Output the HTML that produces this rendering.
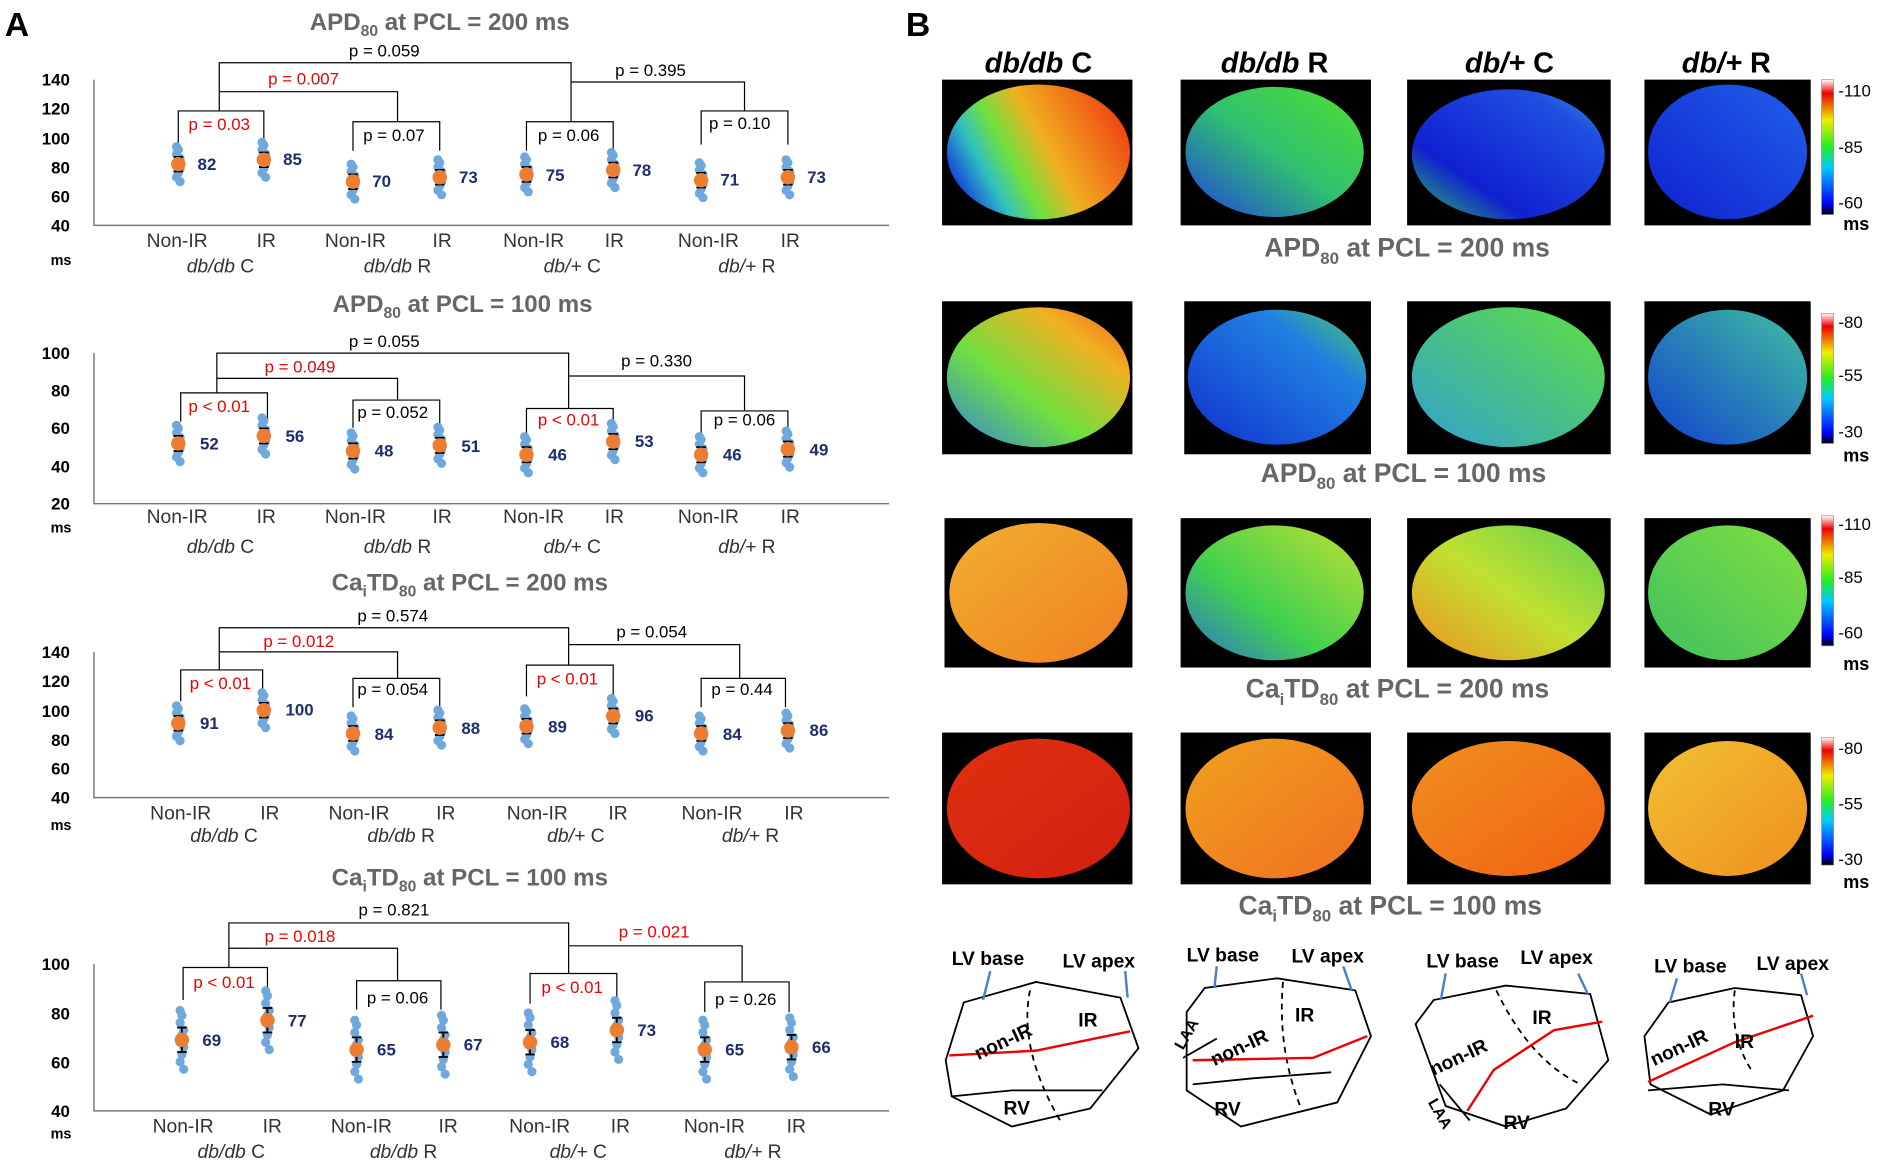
<!DOCTYPE html>
<html><head><meta charset="utf-8"><style>
html,body{margin:0;padding:0;background:#fff;}
svg{display:block;font-family:"Liberation Sans",sans-serif;}
.t{font-size:20px;font-weight:bold;fill:#666;text-anchor:middle}
.bt{font-size:22px;font-weight:bold;fill:#666;text-anchor:middle}
.yt{font-size:14px;font-weight:bold;text-anchor:end}
.xl{font-size:16px;fill:#333;text-anchor:middle}
.gl{font-size:16px;fill:#333;text-anchor:middle;font-style:italic}
.p{font-size:14px;text-anchor:middle}
.r{fill:#e00}
.v{font-size:14px;font-weight:bold;fill:#1f2d6e}
.ax{stroke:#777;stroke-width:1.2;fill:none}
.br{stroke:#000;stroke-width:1;fill:none}
.cl{font-size:24px;font-weight:bold;text-anchor:middle;font-style:italic}
.cl tspan{font-style:normal}
.cb{font-size:14px;fill:#000}
.dg{font-size:16px;font-weight:bold}
</style></head><body>
<svg id="s" width="1889" height="1170" viewBox="0 0 1568 971" xmlns="http://www.w3.org/2000/svg">
<defs>
<linearGradient id="cbar" x1="0" y1="1" x2="0" y2="0">
<stop offset="0" stop-color="#000"/><stop offset="0.08" stop-color="#00f"/><stop offset="0.35" stop-color="#0cf"/><stop offset="0.5" stop-color="#2e2"/><stop offset="0.7" stop-color="#ee0"/><stop offset="0.9" stop-color="#e00"/><stop offset="1" stop-color="#fff"/>
</linearGradient>
<linearGradient id="h11" x1="0" y1="0.7" x2="1" y2="0.3"><stop offset="0" stop-color="#1030e0"/><stop offset="0.2" stop-color="#30c0c0"/><stop offset="0.35" stop-color="#70e040"/><stop offset="0.55" stop-color="#f0b020"/><stop offset="1" stop-color="#f04010"/></linearGradient>
<linearGradient id="h12" x1="0" y1="1" x2="1" y2="0"><stop offset="0" stop-color="#2040e0"/><stop offset="0.5" stop-color="#30c070"/><stop offset="1" stop-color="#50e030"/></linearGradient>
<linearGradient id="h13" x1="0" y1="1" x2="1" y2="0"><stop offset="0" stop-color="#30c060"/><stop offset="0.3" stop-color="#1020d0"/><stop offset="0.8" stop-color="#2050e0"/><stop offset="1" stop-color="#40a0e0"/></linearGradient>
<linearGradient id="h14" x1="0" y1="1" x2="1" y2="0"><stop offset="0" stop-color="#1020d0"/><stop offset="1" stop-color="#2060e8"/></linearGradient>
<linearGradient id="h21" x1="0" y1="1" x2="1" y2="0"><stop offset="0" stop-color="#3080e0"/><stop offset="0.4" stop-color="#70e040"/><stop offset="0.75" stop-color="#f0b020"/><stop offset="1" stop-color="#f06020"/></linearGradient>
<linearGradient id="h22" x1="0" y1="1" x2="1" y2="0"><stop offset="0" stop-color="#1030d0"/><stop offset="0.7" stop-color="#2080e0"/><stop offset="1" stop-color="#50d060"/></linearGradient>
<linearGradient id="h23" x1="0" y1="1" x2="1" y2="0"><stop offset="0" stop-color="#30a0d0"/><stop offset="1" stop-color="#60e040"/></linearGradient>
<linearGradient id="h24" x1="0" y1="1" x2="1" y2="0"><stop offset="0" stop-color="#1040d0"/><stop offset="1" stop-color="#40c0a0"/></linearGradient>
<linearGradient id="h31" x1="0" y1="0" x2="1" y2="1"><stop offset="0" stop-color="#f0b030"/><stop offset="1" stop-color="#f08020"/></linearGradient>
<linearGradient id="h32" x1="0" y1="1" x2="1" y2="0"><stop offset="0" stop-color="#3070d0"/><stop offset="0.4" stop-color="#40d050"/><stop offset="1" stop-color="#c0e030"/></linearGradient>
<linearGradient id="h33" x1="0" y1="1" x2="1" y2="0"><stop offset="0" stop-color="#f09020"/><stop offset="0.5" stop-color="#c0e030"/><stop offset="1" stop-color="#60d050"/></linearGradient>
<linearGradient id="h34" x1="0" y1="1" x2="1" y2="0"><stop offset="0" stop-color="#40c060"/><stop offset="1" stop-color="#80e040"/></linearGradient>
<linearGradient id="h41" x1="0" y1="0" x2="1" y2="1"><stop offset="0" stop-color="#e03010"/><stop offset="1" stop-color="#d02010"/></linearGradient>
<linearGradient id="h42" x1="0" y1="0" x2="1" y2="1"><stop offset="0" stop-color="#f0a020"/><stop offset="1" stop-color="#f07020"/></linearGradient>
<linearGradient id="h43" x1="0" y1="0" x2="1" y2="1"><stop offset="0" stop-color="#f09020"/><stop offset="1" stop-color="#f06010"/></linearGradient>
<linearGradient id="h44" x1="0" y1="0" x2="1" y2="1"><stop offset="0" stop-color="#f0c030"/><stop offset="1" stop-color="#f09020"/></linearGradient>
</defs>

<text x="4" y="30" font-size="28" font-weight="bold">A</text>
<text x="752" y="30" font-size="28" font-weight="bold">B</text>

<!-- Chart 1 -->
<text class="t" x="365" y="25">APD<tspan font-size="13" dy="5">80</tspan><tspan dy="-5"> at PCL = 200 ms</tspan></text>
<path class="ax" d="M78 66V187H738"/>
<g class="yt"><text x="58" y="71">140</text><text x="58" y="95">120</text><text x="58" y="120">100</text><text x="58" y="144">80</text><text x="58" y="168">60</text><text x="58" y="192">40</text></g>
<text x="42" y="220" font-size="12" font-weight="bold">ms</text>
<g class="xl"><text x="147" y="205">Non-IR</text><text x="221" y="205">IR</text><text x="295" y="205">Non-IR</text><text x="367" y="205">IR</text><text x="443" y="205">Non-IR</text><text x="510" y="205">IR</text><text x="588" y="205">Non-IR</text><text x="656" y="205">IR</text></g>
<g class="gl"><text x="183" y="226">db/db <tspan font-style="normal">C</tspan></text><text x="330" y="226">db/db <tspan font-style="normal">R</tspan></text><text x="475" y="226">db/+ <tspan font-style="normal">C</tspan></text><text x="620" y="226">db/+ <tspan font-style="normal">R</tspan></text></g>
<path class="br" d="M182 76V52H474V68M182 92V76H330V101M474 101V68H618V92M148 120V92H219V120M293 125V101H365V125M437 125V101H509V125M582 120V92H654V120"/>
<text class="p" x="319" y="47">p = 0.059</text><text class="p r" x="252" y="70">p = 0.007</text><text class="p" x="540" y="63">p = 0.395</text>
<text class="p r" x="182" y="108">p = 0.03</text><text class="p" x="327" y="117">p = 0.07</text><text class="p" x="472" y="117">p = 0.06</text><text class="p" x="614" y="107">p = 0.10</text>
<g class="v"><text x="164" y="141">82</text><text x="235" y="137">85</text><text x="309" y="155">70</text><text x="381" y="152">73</text><text x="453" y="150">75</text><text x="525" y="146">78</text><text x="598" y="154">71</text><text x="670" y="152">73</text></g>

<!-- Chart 2 -->
<text class="t" x="384" y="259">APD<tspan font-size="13" dy="5">80</tspan><tspan dy="-5"> at PCL = 100 ms</tspan></text>
<path class="ax" d="M78 293V418H738"/>
<g class="yt"><text x="58" y="298">100</text><text x="58" y="329">80</text><text x="58" y="360">60</text><text x="58" y="392">40</text><text x="58" y="423">20</text></g>
<text x="42" y="442" font-size="12" font-weight="bold">ms</text>
<g class="xl"><text x="147" y="434">Non-IR</text><text x="221" y="434">IR</text><text x="295" y="434">Non-IR</text><text x="367" y="434">IR</text><text x="443" y="434">Non-IR</text><text x="510" y="434">IR</text><text x="588" y="434">Non-IR</text><text x="656" y="434">IR</text></g>
<g class="gl"><text x="183" y="459">db/db <tspan font-style="normal">C</tspan></text><text x="330" y="459">db/db <tspan font-style="normal">R</tspan></text><text x="475" y="459">db/+ <tspan font-style="normal">C</tspan></text><text x="620" y="459">db/+ <tspan font-style="normal">R</tspan></text></g>
<path class="br" d="M180 314V293H472V312M180 326V314H330V332M472 339V312H618V341M150 350V326H222V350M293 355V332H365V355M437 362V339H509V362M582 362V341H654V362"/>
<text class="p" x="319" y="288">p = 0.055</text><text class="p r" x="249" y="309">p = 0.049</text><text class="p" x="545" y="304">p = 0.330</text>
<text class="p r" x="182" y="342">p &lt; 0.01</text><text class="p" x="326" y="347">p = 0.052</text><text class="p r" x="472" y="353">p &lt; 0.01</text><text class="p" x="618" y="353">p = 0.06</text>
<g class="v"><text x="166" y="373">52</text><text x="237" y="367">56</text><text x="311" y="379">48</text><text x="383" y="375">51</text><text x="455" y="382">46</text><text x="527" y="371">53</text><text x="600" y="382">46</text><text x="672" y="378">49</text></g>

<!-- Chart 3 -->
<text class="t" x="390" y="490">Ca<tspan font-size="13" dy="5">i</tspan><tspan dy="-5">TD</tspan><tspan font-size="13" dy="5">80</tspan><tspan dy="-5"> at PCL = 200 ms</tspan></text>
<path class="ax" d="M78 541V662H738"/>
<g class="yt"><text x="58" y="546">140</text><text x="58" y="570">120</text><text x="58" y="595">100</text><text x="58" y="619">80</text><text x="58" y="643">60</text><text x="58" y="667">40</text></g>
<text x="42" y="689" font-size="12" font-weight="bold">ms</text>
<g class="xl"><text x="150" y="680">Non-IR</text><text x="224" y="680">IR</text><text x="298" y="680">Non-IR</text><text x="370" y="680">IR</text><text x="446" y="680">Non-IR</text><text x="513" y="680">IR</text><text x="591" y="680">Non-IR</text><text x="659" y="680">IR</text></g>
<g class="gl"><text x="186" y="699">db/db <tspan font-style="normal">C</tspan></text><text x="333" y="699">db/db <tspan font-style="normal">R</tspan></text><text x="478" y="699">db/+ <tspan font-style="normal">C</tspan></text><text x="623" y="699">db/+ <tspan font-style="normal">R</tspan></text></g>
<path class="br" d="M182 541V521H472V535M182 556V541H330V563M472 552V535H614V563M150 582V556H218V582M293 587V563H365V587M437 578V552H509V578M582 587V563H652V587"/>
<text class="p" x="326" y="516">p = 0.574</text><text class="p r" x="248" y="537">p = 0.012</text><text class="p" x="541" y="529">p = 0.054</text>
<text class="p r" x="183" y="572">p &lt; 0.01</text><text class="p" x="326" y="577">p = 0.054</text><text class="p r" x="471" y="568">p &lt; 0.01</text><text class="p" x="616" y="577">p = 0.44</text>
<g class="v"><text x="166" y="605">91</text><text x="237" y="594">100</text><text x="311" y="614">84</text><text x="383" y="609">88</text><text x="455" y="608">89</text><text x="527" y="599">96</text><text x="600" y="614">84</text><text x="672" y="611">86</text></g>

<!-- Chart 4 -->
<text class="t" x="390" y="735">Ca<tspan font-size="13" dy="5">i</tspan><tspan dy="-5">TD</tspan><tspan font-size="13" dy="5">80</tspan><tspan dy="-5"> at PCL = 100 ms</tspan></text>
<path class="ax" d="M78 800V922H738"/>
<g class="yt"><text x="58" y="805">100</text><text x="58" y="846">80</text><text x="58" y="887">60</text><text x="58" y="927">40</text></g>
<text x="42" y="945" font-size="12" font-weight="bold">ms</text>
<g class="xl"><text x="152" y="940">Non-IR</text><text x="226" y="940">IR</text><text x="300" y="940">Non-IR</text><text x="372" y="940">IR</text><text x="448" y="940">Non-IR</text><text x="515" y="940">IR</text><text x="593" y="940">Non-IR</text><text x="661" y="940">IR</text></g>
<g class="gl"><text x="192" y="961">db/db <tspan font-style="normal">C</tspan></text><text x="335" y="961">db/db <tspan font-style="normal">R</tspan></text><text x="480" y="961">db/+ <tspan font-style="normal">C</tspan></text><text x="625" y="961">db/+ <tspan font-style="normal">R</tspan></text></g>
<path class="br" d="M190 787V766H472V785M190 803V787H330V814M472 808V785H616V815M152 830V803H222V830M296 838V814H366V838M440 833V808H512V833M585 840V815H655V840"/>
<text class="p" x="327" y="760">p = 0.821</text><text class="p r" x="249" y="782">p = 0.018</text><text class="p r" x="543" y="778">p = 0.021</text>
<text class="p r" x="186" y="820">p &lt; 0.01</text><text class="p" x="330" y="833">p = 0.06</text><text class="p r" x="475" y="824">p &lt; 0.01</text><text class="p" x="619" y="834">p = 0.26</text>
<g class="v"><text x="168" y="868">69</text><text x="239" y="852">77</text><text x="313" y="876">65</text><text x="385" y="872">67</text><text x="457" y="870">68</text><text x="529" y="860">73</text><text x="602" y="876">65</text><text x="674" y="874">66</text></g>

<g id="dots"></g>

<!-- Panel B -->
<g class="cl"><text x="862" y="60">db/db <tspan>C</tspan></text><text x="1058" y="60">db/db <tspan>R</tspan></text><text x="1253" y="60">db/+ <tspan>C</tspan></text><text x="1433" y="60">db/+ <tspan>R</tspan></text></g>

<rect x="782" y="66" width="158" height="121" fill="#000"/><ellipse cx="862" cy="126" rx="76" ry="56" fill="url(#h11)"/>
<rect x="980" y="66" width="158" height="121" fill="#000"/><ellipse cx="1058" cy="126" rx="74" ry="54" fill="url(#h12)"/>
<rect x="1168" y="66" width="169" height="121" fill="#000"/><ellipse cx="1252" cy="128" rx="80" ry="54" fill="url(#h13)"/>
<rect x="1365" y="66" width="138" height="121" fill="#000"/><ellipse cx="1434" cy="126" rx="66" ry="56" fill="url(#h14)"/>

<rect x="782" y="250" width="158" height="127" fill="#000"/><ellipse cx="862" cy="313" rx="76" ry="58" fill="url(#h21)"/>
<rect x="983" y="250" width="155" height="127" fill="#000"/><ellipse cx="1060" cy="313" rx="74" ry="56" fill="url(#h22)"/>
<rect x="1168" y="250" width="169" height="127" fill="#000"/><ellipse cx="1252" cy="313" rx="80" ry="58" fill="url(#h23)"/>
<rect x="1365" y="250" width="138" height="127" fill="#000"/><ellipse cx="1434" cy="313" rx="66" ry="56" fill="url(#h24)"/>

<rect x="784" y="430" width="156" height="124" fill="#000"/><ellipse cx="862" cy="492" rx="74" ry="58" fill="url(#h31)"/>
<rect x="980" y="430" width="158" height="124" fill="#000"/><ellipse cx="1058" cy="492" rx="74" ry="56" fill="url(#h32)"/>
<rect x="1168" y="430" width="169" height="124" fill="#000"/><ellipse cx="1252" cy="492" rx="80" ry="56" fill="url(#h33)"/>
<rect x="1365" y="430" width="138" height="124" fill="#000"/><ellipse cx="1434" cy="492" rx="66" ry="56" fill="url(#h34)"/>

<rect x="782" y="608" width="158" height="126" fill="#000"/><ellipse cx="862" cy="671" rx="76" ry="58" fill="url(#h41)"/>
<rect x="980" y="608" width="158" height="126" fill="#000"/><ellipse cx="1058" cy="671" rx="74" ry="58" fill="url(#h42)"/>
<rect x="1168" y="608" width="169" height="126" fill="#000"/><ellipse cx="1252" cy="671" rx="80" ry="56" fill="url(#h43)"/>
<rect x="1365" y="608" width="138" height="126" fill="#000"/><ellipse cx="1434" cy="671" rx="66" ry="56" fill="url(#h44)"/>

<g>
<rect x="1512" y="66" width="10" height="112" fill="url(#cbar)" stroke="#888" stroke-width="0.5"/>
<text class="cb" x="1526" y="80">-110</text><text class="cb" x="1526" y="127">-85</text><text class="cb" x="1526" y="173">-60</text><text x="1530" y="191" font-size="15" font-weight="bold">ms</text>
<rect x="1512" y="260" width="10" height="108" fill="url(#cbar)" stroke="#888" stroke-width="0.5"/>
<text class="cb" x="1526" y="272">-80</text><text class="cb" x="1526" y="316">-55</text><text class="cb" x="1526" y="363">-30</text><text x="1530" y="383" font-size="15" font-weight="bold">ms</text>
<rect x="1512" y="428" width="10" height="108" fill="url(#cbar)" stroke="#888" stroke-width="0.5"/>
<text class="cb" x="1526" y="440">-110</text><text class="cb" x="1526" y="484">-85</text><text class="cb" x="1526" y="530">-60</text><text x="1530" y="556" font-size="15" font-weight="bold">ms</text>
<rect x="1512" y="612" width="10" height="106" fill="url(#cbar)" stroke="#888" stroke-width="0.5"/>
<text class="cb" x="1526" y="626">-80</text><text class="cb" x="1526" y="672">-55</text><text class="cb" x="1526" y="718">-30</text><text x="1530" y="737" font-size="15" font-weight="bold">ms</text>
</g>

<text class="bt" x="1168" y="213">APD<tspan font-size="14" dy="6">80</tspan><tspan dy="-6"> at PCL = 200 ms</tspan></text>
<text class="bt" x="1165" y="400">APD<tspan font-size="14" dy="6">80</tspan><tspan dy="-6"> at PCL = 100 ms</tspan></text>
<text class="bt" x="1160" y="579">Ca<tspan font-size="14" dy="6">i</tspan><tspan dy="-6">TD</tspan><tspan font-size="14" dy="6">80</tspan><tspan dy="-6"> at PCL = 200 ms</tspan></text>
<text class="bt" x="1154" y="759">Ca<tspan font-size="14" dy="6">i</tspan><tspan dy="-6">TD</tspan><tspan font-size="14" dy="6">80</tspan><tspan dy="-6"> at PCL = 100 ms</tspan></text>

<!-- Diagrams -->
<g fill="none" stroke="#000" stroke-width="1.5">
<path d="M785 880L800 832L860 815L930 828L945 870L905 920L840 935L790 910Z"/>
<path d="M790 910L840 905L915 905" /><path d="M855 822Q845 870 880 930" stroke-dasharray="5,4"/>
<path d="M788 876L860 872L938 856" stroke="#e00" stroke-width="2"/>
<path d="M985 840L1000 820L1060 812L1125 822L1138 860L1110 915L1030 935L985 905Z"/>
<path d="M982 878L1010 862" /><path d="M990 900L1040 895L1105 890"/><path d="M1065 815Q1060 870 1080 920" stroke-dasharray="5,4"/>
<path d="M990 880L1090 878L1135 860" stroke="#e00" stroke-width="2"/>
<path d="M1175 850L1190 830L1250 818L1320 825L1335 880L1300 920L1250 935L1200 918Z"/>
<path d="M1242 822Q1270 880 1312 900" stroke-dasharray="5,4"/><path d="M1195 900L1220 930"/>
<path d="M1218 922L1240 888L1290 855L1330 848" stroke="#e00" stroke-width="2"/>
<path d="M1365 860L1385 832L1440 820L1495 826L1505 860L1480 905L1420 925L1370 900Z"/>
<path d="M1368 905L1430 900L1485 905"/><path d="M1440 822Q1435 860 1455 890" stroke-dasharray="5,4"/>
<path d="M1368 898L1440 865L1505 843" stroke="#e00" stroke-width="2"/>
</g>
<g stroke="#4a7fd0" stroke-width="2" fill="#4a7fd0">
<path d="M822 806L816 830"/><path d="M934 806L936 828"/>
<path d="M1010 802L1008 820"/><path d="M1115 802L1122 822"/>
<path d="M1200 808L1196 830"/><path d="M1310 808L1318 825"/>
<path d="M1392 812L1386 832"/><path d="M1495 808L1500 826"/>
</g>
<g class="dg">
<text x="790" y="801">LV base</text><text x="882" y="803">LV apex</text>
<text x="985" y="798">LV base</text><text x="1072" y="799">LV apex</text>
<text x="1184" y="803">LV base</text><text x="1262" y="800">LV apex</text>
<text x="1373" y="807">LV base</text><text x="1458" y="805">LV apex</text>
<text x="895" y="852">IR</text><text x="833" y="925">RV</text>
<text x="1075" y="848">IR</text><text x="1008" y="926">RV</text>
<text x="1272" y="850">IR</text><text x="1248" y="937">RV</text>
<text x="1440" y="870">IR</text><text x="1418" y="926">RV</text>
<text x="812" y="880" transform="rotate(-25 812 880)">non-IR</text>
<text x="1008" y="885" transform="rotate(-25 1008 885)">non-IR</text>
<text x="1190" y="893" transform="rotate(-25 1190 893)">non-IR</text>
<text x="1373" y="885" transform="rotate(-25 1373 885)">non-IR</text>
<text x="982" y="872" font-size="13" transform="rotate(-60 982 872)">LAA</text>
<text x="1185" y="915" font-size="13" transform="rotate(60 1185 915)">LAA</text>
</g>
</svg>
<script>
(function(){
var ns="http://www.w3.org/2000/svg",g=document.getElementById("dots");
var gx=[148,219,293,365,437,509,582,654];
var C=[
 {b:187,s:1.21,o:40,m:[82,85,70,73,75,78,71,73]},
 {b:418,s:1.5625,o:20,m:[52,56,48,51,46,53,46,49]},
 {b:662,s:1.21,o:40,m:[91,100,84,88,89,96,84,86]},
 {b:922,s:2.033,o:40,m:[69,77,65,67,68,73,65,66]}];
var off=[-9,-6,-3,-1,2,4,7,10,-12,12];
function el(n,a){var e=document.createElementNS(ns,n);for(var k in a)e.setAttribute(k,a[k]);g.appendChild(e);return e;}
C.forEach(function(c,ci){
 c.m.forEach(function(m,i){
  var x=gx[i]+(ci==3?3:0);
  function Y(v){return c.b-(v-c.o)*c.s;}
  off.forEach(function(d,j){el("circle",{cx:x+((j%3)-1)*1.5,cy:Y(m+d*(ci==1?0.8:1)),r:3.8,fill:"#6fa8dc"});});
  var sd=5*(ci==1?0.8:1);
  el("path",{d:"M"+x+" "+Y(m+sd)+"V"+Y(m-sd)+"M"+(x-4)+" "+Y(m+sd)+"h8M"+(x-4)+" "+Y(m-sd)+"h8",stroke:"#000","stroke-width":1.5,fill:"none"});
  el("circle",{cx:x,cy:Y(m),r:6,fill:"#ed7d31"});
 });
});
})();
</script>
</body></html>
